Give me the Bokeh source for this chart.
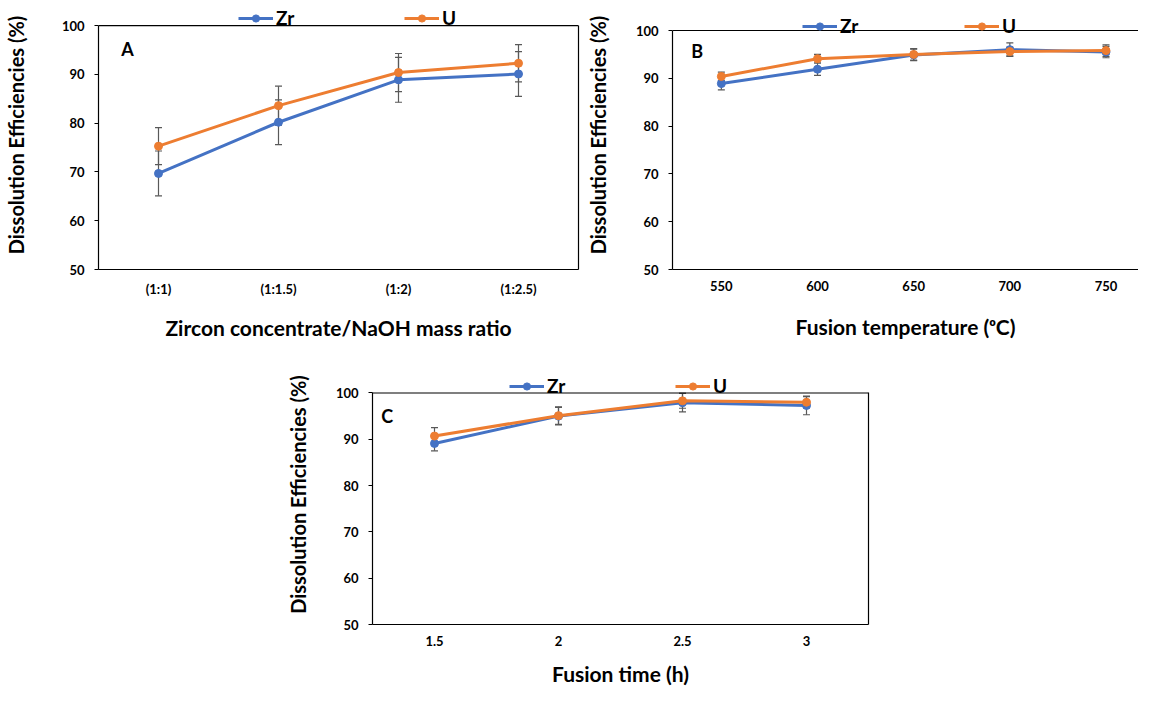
from bokeh.plotting import figure
from bokeh.models import (Range1d, FactorRange, FixedTicker, LinearAxis, Whisker, Span,
                          ColumnDataSource, Legend, LegendItem, Label, TeeHead)
from bokeh.layouts import column, row
from bokeh.embed import file_html
from bokeh.resources import INLINE

# ---------------- data ----------------
a_ratios = ["(1:1)", "(1:1.5)", "(1:2)", "(1:2.5)"]
a_zr = [69.7, 80.2, 88.9, 90.1]
a_zr_err = [4.6, 4.6, 4.6, 4.6]
a_u = [75.3, 83.6, 90.4, 92.3]
a_u_err = [3.8, 4.0, 3.9, 3.8]

b_temps = [550, 600, 650, 700, 750]
b_zr = [88.9, 91.9, 94.9, 96.0, 95.5]
b_zr_err = [1.3, 1.3, 1.2, 1.4, 1.2]
b_u = [90.4, 94.1, 95.0, 95.6, 95.8]
b_u_err = [0.9, 0.9, 1.2, 0.9, 1.2]

c_times = ["1.5", "2", "2.5", "3"]
c_zr = [89.1, 95.0, 97.9, 97.3]
c_zr_err = [1.6, 1.9, 2.0, 2.0]
c_u = [90.7, 95.1, 98.3, 98.0]
c_u_err = [1.8, 1.9, 1.6, 1.2]

y_ticks = [50, 60, 70, 80, 90, 100]
y_min, y_max = 50, 100
y_title = "Dissolution Efficiencies (%)"

# ---------------- style ----------------
FONT = "Lato"
ZR_COLOR = "#4472C4"
U_COLOR = "#ED7D31"
ERR_COLOR = "#595959"


def base_fig(width, height, x_range, y_top, mbl, mbr, mbt, mbb, right_edge=True):
    # the frame extends above 100 so the legend can sit above the plot-area box
    p = figure(width=width, height=height, x_range=x_range, y_range=Range1d(y_min, y_top),
               output_backend="svg", toolbar_location=None,
               min_border_left=mbl, min_border_right=mbr,
               min_border_top=mbt, min_border_bottom=mbb)
    p.xgrid.visible = False
    p.ygrid.visible = False
    p.outline_line_color = None
    p.background_fill_color = "white"
    p.border_fill_color = "white"
    for ax in (p.xaxis[0], p.yaxis[0]):
        ax.axis_line_color = "black"
        ax.axis_line_width = 1.2
        ax.major_label_text_font = FONT
        ax.major_label_text_font_style = "bold"
        ax.major_label_text_font_size = "13px"
        ax.major_label_text_color = "black"
        ax.axis_label_text_font = FONT
        ax.axis_label_text_font_style = "bold"
        ax.axis_label_text_color = "black"
        ax.minor_tick_line_color = None
    p.xaxis[0].axis_label_text_font_size = "21px"
    p.yaxis[0].axis_label_text_font_size = "20px"
    p.yaxis[0].ticker = FixedTicker(ticks=y_ticks)
    p.yaxis[0].bounds = (y_min, y_max)
    p.yaxis[0].major_tick_out = 4
    p.yaxis[0].major_tick_in = 0
    p.yaxis[0].major_tick_line_color = "black"
    p.yaxis[0].major_label_standoff = 10
    p.xaxis[0].major_tick_out = 0
    p.xaxis[0].major_tick_in = 0
    p.xaxis[0].major_tick_line_color = None
    p.xaxis[0].major_label_standoff = 11
    # top edge of the plot-area box
    p.add_layout(Span(location=y_max, dimension="width", line_color="black", line_width=1.2))
    if right_edge:
        rax = LinearAxis(bounds=(y_min, y_max), ticker=FixedTicker(ticks=[]),
                         major_tick_out=0, major_tick_in=0, minor_tick_out=0, minor_tick_in=0,
                         major_label_text_font_size="0px", major_label_standoff=0,
                         axis_line_color="black", axis_line_width=1.2)
        p.add_layout(rax, "right")
    return p


def draw_series(p, xs, ys, errs, color):
    src = ColumnDataSource(dict(x=xs, y=ys,
                                lo=[y - e for y, e in zip(ys, errs)],
                                hi=[y + e for y, e in zip(ys, errs)]))
    ln = p.line("x", "y", source=src, line_color=color, line_width=3)
    sc = p.scatter("x", "y", source=src, size=8, fill_color=color, line_color=color)
    w = Whisker(source=src, base="x", lower="lo", upper="hi",
                line_color=ERR_COLOR, line_width=1.2,
                upper_head=TeeHead(size=7, line_color=ERR_COLOR, line_width=1.2),
                lower_head=TeeHead(size=7, line_color=ERR_COLOR, line_width=1.2))
    p.add_layout(w)
    return ln, sc


def add_legend(p, zr_r, u_r, loc, spacing):
    leg = Legend(items=[LegendItem(label="Zr", renderers=list(zr_r)),
                        LegendItem(label="U", renderers=list(u_r))],
                 location=loc, orientation="horizontal",
                 label_text_font=FONT, label_text_font_style="bold",
                 label_text_font_size="19px", label_text_color="black",
                 glyph_width=35, glyph_height=18, label_standoff=3,
                 spacing=spacing, padding=0, margin=0,
                 border_line_color=None, background_fill_alpha=0)
    p.add_layout(leg)


def add_letter(p, x, y, txt):
    p.add_layout(Label(x=x, y=y, text=txt, text_font=FONT, text_font_style="bold",
                       text_font_size="18px", text_color="black",
                       text_align="left", text_baseline="middle"))


# ---------------- panel A ----------------
pA = base_fig(582, 352, FactorRange(factors=a_ratios), 105.17, 94, 4, 0, 82)
pA.yaxis[0].axis_label = y_title
pA.yaxis[0].axis_label_standoff = 31
pA.xaxis[0].axis_label = "Zircon concentrate/NaOH mass ratio"
pA.xaxis[0].axis_label_standoff = 15
za = draw_series(pA, a_ratios, a_zr, a_zr_err, ZR_COLOR)
ua = draw_series(pA, a_ratios, a_u, a_u_err, U_COLOR)
add_legend(pA, za, ua, (140, 240), 108)
add_letter(pA, 0.19, 95.25, "A")

# ---------------- panel B ----------------
pB = base_fig(556, 352, Range1d(524.6, 766.9), 106.28, 84, 0, 0, 83, right_edge=False)
pB.xaxis[0].ticker = FixedTicker(ticks=b_temps)
pB.yaxis[0].axis_label = y_title
pB.yaxis[0].axis_label_standoff = 23
pB.xaxis[0].axis_label = "Fusion temperature (ᵒC)"
pB.xaxis[0].axis_label_standoff = 20
zb = draw_series(pB, b_temps, b_zr, b_zr_err, ZR_COLOR)
ub = draw_series(pB, b_temps, b_u, b_u_err, U_COLOR)
add_legend(pB, zb, ub, (130, 232), 104)
add_letter(pB, 534.4, 95.7, "B")

# ---------------- panel C ----------------
pC = base_fig(1138, 336, FactorRange(factors=c_times), 106.15, 372, 270, 12, 62)
pC.yaxis[0].axis_label = y_title
pC.yaxis[0].axis_label_standoff = 23
pC.xaxis[0].axis_label = "Fusion time (h)"
pC.xaxis[0].axis_label_standoff = 12
zc = draw_series(pC, c_times, c_zr, c_zr_err, ZR_COLOR)
uc = draw_series(pC, c_times, c_u, c_u_err, U_COLOR)
add_legend(pC, zc, uc, (137, 227), 108)
add_letter(pC, 0.07, 95.1, "C")

layout = column(row(pA, pB), pC)
open("out.html", "w").write(file_html(layout, INLINE))
